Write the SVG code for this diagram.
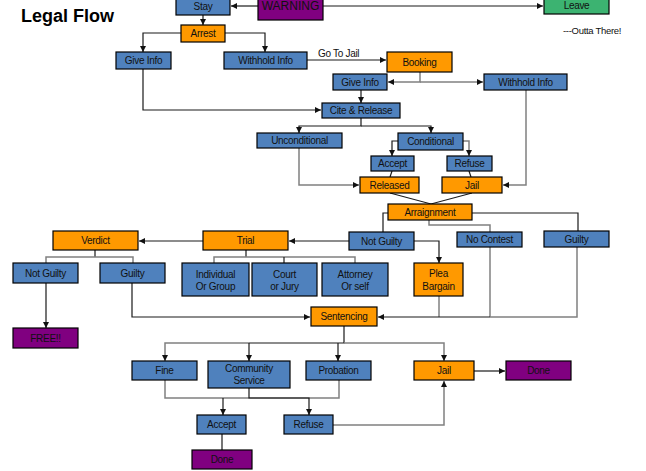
<svg xmlns="http://www.w3.org/2000/svg" width="646" height="471" viewBox="0 0 646 471">
<style>
rect{stroke:#000;stroke-width:1.2}
.b{fill:#4F81BD}.o{fill:#FF9900}.p{fill:#800080}.g{fill:#3CB371}
text{font-family:"Liberation Sans",Arial,sans-serif;font-size:10px;letter-spacing:-0.3px;fill:#111;text-anchor:middle}
.c path{fill:none;stroke:#1a1a1a;stroke-width:1.2}
.c path.gr{stroke:#808080;stroke-width:1.5}
</style>
<defs>
<marker id="a" markerUnits="userSpaceOnUse" markerWidth="6" markerHeight="6" refX="6" refY="3" orient="auto"><path d="M0,0 L6,3 L0,6 z" fill="#111"/></marker>
</defs>
<text x="21" y="22" style="font-size:18px;font-weight:bold;text-anchor:start;letter-spacing:0;fill:#000">Legal Flow</text>
<text x="563" y="34" style="text-anchor:start;font-size:9.5px">---Outta There!</text>
<text x="318" y="57" style="text-anchor:start">Go To Jail</text>
<g class="c" id="connectors">
<path d="M258,6 H231" marker-end="url(#a)"/>
<path d="M323,6 H543" marker-end="url(#a)"/>
<path d="M203,15 V25" marker-end="url(#a)"/>
<path d="M181,33 H143 V52" marker-end="url(#a)"/>
<path d="M225,33 H265 V52" marker-end="url(#a)"/>
<path d="M143,69 V110 H321" marker-end="url(#a)"/>
<path d="M307,60 H386" marker-end="url(#a)"/>
<path class="gr" d="M420,72 V82 H388" marker-end="url(#a)"/>
<path class="gr" d="M420,82 H483" marker-end="url(#a)"/>
<path d="M361,90 V103" marker-end="url(#a)"/>
<path d="M361,118 V126 H299 V133" marker-end="url(#a)"/>
<path d="M361,126 H431 V133" marker-end="url(#a)"/>
<path d="M398,141 H392 V156" marker-end="url(#a)"/>
<path class="gr" d="M463,141 H469 V156" marker-end="url(#a)"/>
<path d="M392,171 L390,177"/>
<path d="M469,171 L471,177"/>
<path class="gr" d="M299,148 V185 H359" marker-end="url(#a)"/>
<path class="gr" d="M526,90 V185 H503" marker-end="url(#a)"/>
<path d="M390,193 L431,204 L472,193"/>
<path d="M388,213 H383 V232"/>
<path class="gr" d="M429,220 V225 H490 V232"/>
<path d="M472,213 H578 V231"/>
<path d="M349,241 H289" marker-end="url(#a)"/>
<path d="M414,241 H439 V263" marker-end="url(#a)"/>
<path d="M246,250 V257"/>
<path class="gr" d="M214,263 V257 H355 V263"/>
<path d="M284,257 V263"/>
<path d="M203,241 H139" marker-end="url(#a)"/>
<path d="M95,250 V257"/>
<path class="gr" d="M46,263 V257 H133 V263"/>
<path d="M46,283 V328" marker-end="url(#a)"/>
<path d="M132,283 V317 H310" marker-end="url(#a)"/>
<path class="gr" d="M439,296 V317"/>
<path class="gr" d="M490,247 V317"/>
<path class="gr" d="M577,247 V317 H490"/>
<path d="M490,317 H378" marker-end="url(#a)"/>
<path d="M344,326 V343 H249"/>
<path class="gr" d="M249,343 H165 V361" marker-end="url(#a)"/>
<path class="gr" d="M344,343 H444 V361" marker-end="url(#a)"/>
<path d="M249,343 V361" marker-end="url(#a)"/>
<path d="M338,343 V361" marker-end="url(#a)"/>
<path class="gr" d="M165,380 V398 H339 V380"/>
<path d="M249,388 V398 H309 V415" marker-end="url(#a)"/>
<path d="M223,398 V415" marker-end="url(#a)"/>
<path class="gr" d="M333,425 H444 V381" marker-end="url(#a)"/>
<path d="M474,371 H505" marker-end="url(#a)"/>
<path d="M222,434 V450"/>
</g>
<g id="stay"><rect class="b" x="176" y="-3" width="54" height="18"/><text x="203" y="10">Stay</text></g>
<g id="warning"><rect class="p" x="258" y="-3" width="65" height="23"/><text x="290.5" y="10" style="font-size:12px;letter-spacing:0">WARNING</text></g>
<g id="leave"><rect class="g" x="544" y="-3" width="65" height="17"/><text x="576.5" y="9">Leave</text></g>
<g id="arrest"><rect class="o" x="181" y="25" width="44" height="17"/><text x="203" y="37">Arrest</text></g>
<g id="giveinfo1"><rect class="b" x="116" y="52" width="55" height="17"/><text x="143.5" y="64">Give Info</text></g>
<g id="withhold1"><rect class="b" x="224" y="52" width="83" height="17"/><text x="265.5" y="64">Withhold Info</text></g>
<g id="booking"><rect class="o" x="387" y="52" width="65" height="20"/><text x="419.5" y="65.5">Booking</text></g>
<g id="giveinfo2"><rect class="b" x="333" y="74" width="54" height="16"/><text x="360" y="85.5">Give Info</text></g>
<g id="withhold2"><rect class="b" x="484" y="74" width="83" height="16"/><text x="525.5" y="85.5">Withhold Info</text></g>
<g id="cite"><rect class="b" x="322" y="103" width="78" height="15"/><text x="361" y="114">Cite &amp; Release</text></g>
<g id="unconditional"><rect class="b" x="257" y="133" width="85" height="15"/><text x="299.5" y="144">Unconditional</text></g>
<g id="conditional"><rect class="b" x="398" y="133" width="65" height="17"/><text x="430.5" y="145">Conditional</text></g>
<g id="accept1"><rect class="b" x="371" y="156" width="43" height="15"/><text x="392.5" y="167">Accept</text></g>
<g id="refuse1"><rect class="b" x="447" y="156" width="45" height="15"/><text x="469.5" y="167">Refuse</text></g>
<g id="released"><rect class="o" x="360" y="177" width="59" height="16"/><text x="389.5" y="188.5">Released</text></g>
<g id="jail1"><rect class="o" x="442" y="177" width="60" height="16"/><text x="472" y="188.5">Jail</text></g>
<g id="arraignment"><rect class="o" x="388" y="204" width="84" height="16"/><text x="430" y="215.5">Arraignment</text></g>
<g id="notguilty1"><rect class="b" x="349" y="232" width="65" height="18"/><text x="381.5" y="244.5">Not Guilty</text></g>
<g id="nocontest"><rect class="b" x="457" y="232" width="65" height="15"/><text x="489.5" y="243">No Contest</text></g>
<g id="guilty1"><rect class="b" x="544" y="231" width="65" height="16"/><text x="576.5" y="242.5">Guilty</text></g>
<g id="trial"><rect class="o" x="203" y="231" width="85" height="19"/><text x="245.5" y="244">Trial</text></g>
<g id="verdict"><rect class="o" x="53" y="231" width="85" height="19"/><text x="95.5" y="244">Verdict</text></g>
<g id="notguilty2"><rect class="b" x="13" y="263" width="65" height="20"/><text x="45.5" y="277">Not Guilty</text></g>
<g id="guilty2"><rect class="b" x="100" y="263" width="65" height="20"/><text x="132.5" y="277">Guilty</text></g>
<g id="individual"><rect class="b" x="182" y="263" width="67" height="33"/><text x="215.5" y="278">Individual</text><text x="215.5" y="290">Or Group</text></g>
<g id="court"><rect class="b" x="252" y="263" width="65" height="33"/><text x="284.5" y="278">Court</text><text x="284.5" y="290">or Jury</text></g>
<g id="attorney"><rect class="b" x="322" y="263" width="66" height="33"/><text x="355" y="278">Attorney</text><text x="355" y="290">Or self</text></g>
<g id="plea"><rect class="o" x="414" y="263" width="49" height="33"/><text x="438.5" y="277">Plea</text><text x="438.5" y="290">Bargain</text></g>
<g id="free"><rect class="p" x="13" y="328" width="65" height="20"/><text x="45.5" y="342">FREE!!</text></g>
<g id="sentencing"><rect class="o" x="311" y="307" width="66" height="19"/><text x="344" y="320">Sentencing</text></g>
<g id="fine"><rect class="b" x="132" y="361" width="65" height="19"/><text x="164.5" y="374">Fine</text></g>
<g id="community"><rect class="b" x="208" y="361" width="82" height="27"/><text x="249" y="372">Community</text><text x="249" y="384">Service</text></g>
<g id="probation"><rect class="b" x="306" y="361" width="65" height="19"/><text x="338.5" y="374">Probation</text></g>
<g id="jail2"><rect class="o" x="414" y="361" width="60" height="19"/><text x="444" y="374">Jail</text></g>
<g id="done1"><rect class="p" x="506" y="361" width="65" height="19"/><text x="538.5" y="374">Done</text></g>
<g id="accept2"><rect class="b" x="197" y="415" width="49" height="19"/><text x="221.5" y="428">Accept</text></g>
<g id="refuse2"><rect class="b" x="284" y="415" width="49" height="19"/><text x="308.5" y="428">Refuse</text></g>
<g id="done2"><rect class="p" x="192" y="450" width="60" height="19"/><text x="222" y="463">Done</text></g>
</svg>
